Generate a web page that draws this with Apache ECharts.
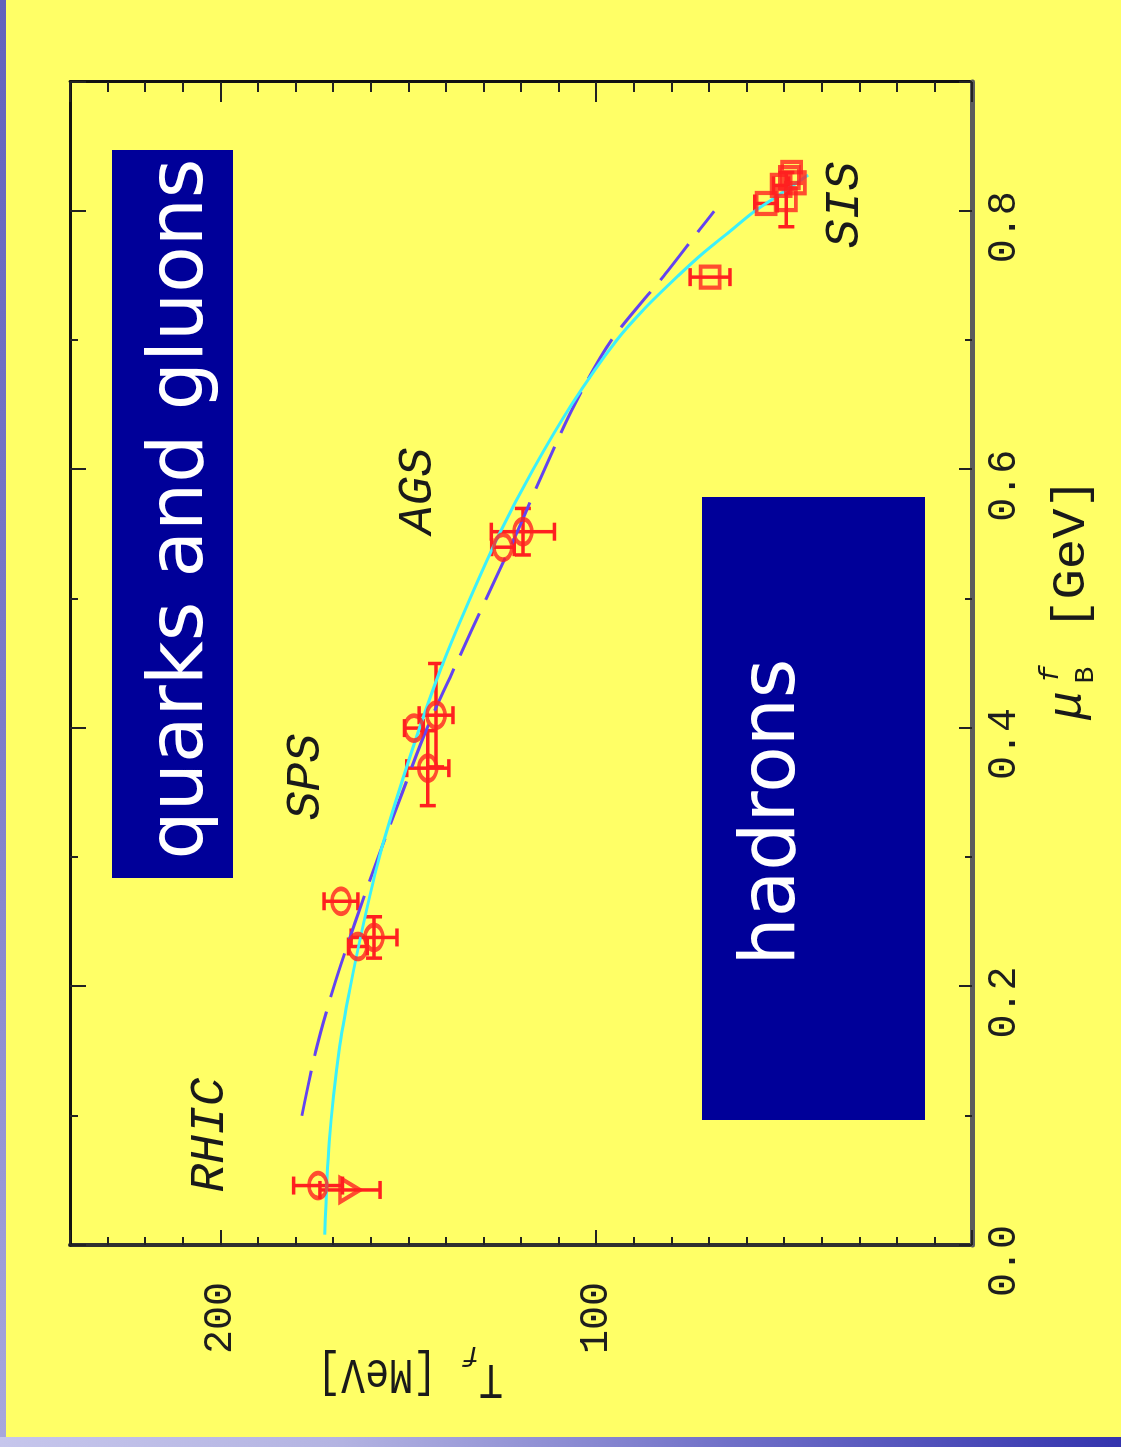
<!DOCTYPE html>
<html><head><meta charset="utf-8">
<script src="https://cdn.jsdelivr.net/npm/echarts@6/dist/echarts.min.js"></script>
<style>
html,body{margin:0;padding:0;width:1121px;height:1447px;overflow:hidden;background:#FFFF66;}
#chart{position:absolute;left:0;top:0;width:1447px;height:1121px;transform-origin:0 0;transform:translate(0px,1447px) rotate(-90deg);}
#edgeL{position:absolute;left:0;top:0;width:6px;height:1447px;background:linear-gradient(#6262BC,#7c7cc8 50%,#a8a8dc);z-index:5;}
#edgeB{position:absolute;left:0;top:1437px;width:1121px;height:10px;background:linear-gradient(90deg,#c6c6ec,#b4b4e2 30%,#7070c8 65%,#3434ae);z-index:5;}
</style></head>
<body>
<div id="chart"></div>
<div id="edgeL"></div>
<div id="edgeB"></div>
<script>
// ---- tick labels ----
const muTickLabels = ['0.0', '0.2', '0.4', '0.6', '0.8'];
const tTickLabels = ['100', '200'];

// ---- curves: [muB (GeV), T (MeV)] ----
const curveSolid = [
  [0.008, 172.2], [0.08, 171.0], [0.15, 168.4], [0.20, 165.4], [0.25, 161.8],
  [0.30, 157.7], [0.35, 152.6], [0.40, 147.0], [0.45, 140.8], [0.50, 133.6],
  [0.55, 125.8], [0.60, 116.8], [0.65, 106.6], [0.70, 94.6], [0.725, 87.0],
  [0.75, 78.2], [0.768, 71.4], [0.783, 65.0], [0.799, 58.3], [0.811, 52.2], [0.828, 43.6]
];
const curveDashed = [
  [0.100, 178.3], [0.15, 174.6], [0.20, 169.8], [0.25, 164.1], [0.30, 158.0],
  [0.35, 151.6], [0.40, 145.0], [0.45, 137.2], [0.50, 129.3], [0.55, 121.3],
  [0.60, 113.8], [0.65, 105.8], [0.70, 96.0], [0.75, 82.0], [0.786, 72.4], [0.800, 68.6]
];

// ---- data points: [muB, T, dT, dMu] ----
const rhicCircles = [[0.046, 174.0, 6.5, 0]];
const rhicTriangles = [[0.0426, 165.5, 8.0, 0]];
const spsCircles = [
  [0.266, 167.9, 4.5, 0], [0.238, 159.1, 6.1, 0.016], [0.231, 163.4, 2.5, 0],
  [0.410, 142.6, 4.5, 0.040], [0.400, 148.5, 2.5, 0], [0.369, 144.8, 5.6, 0.029]
];
const agsCircles = [[0.552, 119.5, 8.4, 0.018], [0.540, 124.8, 3.0, 0]];
const sisSquares = [
  [0.749, 69.7, 5.3, 0], [0.806, 54.8, 3.0, 0], [0.809, 49.4, 0, 0.021],
  [0.826, 48.6, 0, 0], [0.822, 47.0, 0, 0], [0.820, 50.8, 2.0, 0], [0.830, 48.0, 0, 0]
];

const RED = '#FF2020';
const CYAN = '#3CF0FA';
const VIOLET = '#6343F0';
const ELLIPSE = 'path://M0,-50A50,50 0 1,1 0,50A50,50 0 1,1 0,-50Z';

const chart = echarts.init(document.getElementById('chart'), null, {renderer: 'canvas', width: 1447, height: 1121});

function errRender(params, api) {
  const mu = api.value(0), T = api.value(1), dT = api.value(2), dMu = api.value(3);
  const st = {stroke: RED, lineWidth: 3.5};
  const ch = [];
  const capW = 9, capH = 8;
  if (dT > 0) {
    const a = api.coord([mu, T - dT]), b = api.coord([mu, T + dT]);
    ch.push({type: 'line', shape: {x1: a[0], y1: a[1], x2: b[0], y2: b[1]}, style: st});
    ch.push({type: 'line', shape: {x1: a[0] - capW, y1: a[1], x2: a[0] + capW, y2: a[1]}, style: st});
    ch.push({type: 'line', shape: {x1: b[0] - capW, y1: b[1], x2: b[0] + capW, y2: b[1]}, style: st});
  }
  if (dMu > 0) {
    const a = api.coord([mu - dMu, T]), b = api.coord([mu + dMu, T]);
    ch.push({type: 'line', shape: {x1: a[0], y1: a[1], x2: b[0], y2: b[1]}, style: st});
    ch.push({type: 'line', shape: {x1: a[0], y1: a[1] - capH, x2: a[0], y2: a[1] + capH}, style: st});
    ch.push({type: 'line', shape: {x1: b[0], y1: b[1] - capH, x2: b[0], y2: b[1] + capH}, style: st});
  }
  return {type: 'group', children: ch};
}

const allPoints = [].concat(rhicCircles, rhicTriangles, spsCircles, agsCircles, sisSquares);

function tickAxis(pos, interval, len, line) {
  return {
    type: 'value', min: 0, max: 0.9, interval: interval, position: pos,
    axisLine: line ? {show: true, onZero: false, lineStyle: line} : {show: false, onZero: false},
    axisTick: {show: true, inside: true, length: len, lineStyle: {color: '#222', width: 2}},
    axisLabel: {show: false}, splitLine: {show: false}
  };
}
function tickAxisY(pos, interval, len, line) {
  return {
    type: 'value', min: 0, max: 240, interval: interval, position: pos,
    axisLine: line ? {show: true, onZero: false, lineStyle: line} : {show: false, onZero: false},
    axisTick: {show: true, inside: true, length: len, lineStyle: {color: '#222', width: 2}},
    axisLabel: {show: false}, splitLine: {show: false}
  };
}

const xMain = tickAxis('bottom', 0.2, 13, {color: '#5c5c5c', width: 5});
xMain.axisLabel = {
  show: true, margin: 12, fontFamily: 'Liberation Mono', fontSize: 40, color: '#1e1e1e',
  padding: [0, 32, 0, 0],
  formatter: function (v) { const s = v.toFixed(1); return muTickLabels.indexOf(s) >= 0 ? s : ''; }
};
const yMain = tickAxisY('left', 100, 15, {color: '#303030', width: 4});
yMain.axisLabel = {
  show: true, margin: 37, fontFamily: 'Liberation Mono', fontSize: 40, color: '#1e1e1e',
  formatter: function (v) { const s = String(Math.round(v)); return tTickLabels.indexOf(s) >= 0 ? s : ''; }
};

const txt = (x, y, text, extra) => ({
  type: 'text', x: x, y: y, z: 100,
  style: Object.assign({text: text, fill: '#1a1a1a', align: 'center', verticalAlign: 'middle',
    fontFamily: 'Liberation Mono', fontSize: 48, fontStyle: 'italic'}, extra || {})
});

chart.setOption({
  backgroundColor: 'transparent',
  animation: false,
  grid: {left: 202, right: 82, top: 70, bottom: 149, containLabel: false, outerBoundsMode: 'none'},
  xAxis: [xMain, tickAxis('bottom', 0.1, 7, null), tickAxis('top', 0.2, 16, {color: '#111', width: 3}), tickAxis('top', 0.1, 8, null)],
  yAxis: [yMain, tickAxisY('left', 10, 8, null), tickAxisY('right', 100, 20, {color: '#111', width: 3}), tickAxisY('right', 10, 10, null)],
  series: [
    {type: 'custom', renderItem: errRender, data: allPoints, encode: {x: 0, y: 1}, z: 3, silent: true},
    {type: 'line', data: curveDashed, showSymbol: false, smooth: 0.3, z: 4, itemStyle: {color: VIOLET},
      lineStyle: {color: VIOLET, width: 3, type: [46, 15]}},
    {type: 'line', data: curveSolid, showSymbol: false, smooth: 0.3, z: 4,
      lineStyle: {color: CYAN, width: 3}, itemStyle: {color: CYAN}},
    {type: 'scatter', data: [].concat(rhicCircles, spsCircles, agsCircles), symbol: ELLIPSE, symbolSize: [25, 18], z: 5,
      itemStyle: {color: 'rgba(0,0,0,0)', borderColor: RED, borderWidth: 4}},
    {type: 'scatter', data: rhicTriangles, symbol: 'triangle', symbolRotate: 180, symbolSize: [24, 20], z: 5,
      itemStyle: {color: 'rgba(0,0,0,0)', borderColor: RED, borderWidth: 4}},
    {type: 'scatter', data: sisSquares, symbol: 'rect', symbolSize: [21, 19], z: 5,
      itemStyle: {color: 'rgba(0,0,0,0)', borderColor: RED, borderWidth: 4}}
  ],
  graphic: [
    {type: 'rect', shape: {x: 569, y: 112, width: 728, height: 121}, style: {fill: '#000099'}, z: 90},
    {type: 'rect', shape: {x: 327, y: 702, width: 623, height: 223}, style: {fill: '#000099'}, z: 90},
    {type: 'text', x: 938, y: 182, z: 100, style: {text: 'quarks and gluons', fontFamily: 'DejaVu Sans', fontSize: 76,
      fill: '#ffffff', align: 'center', verticalAlign: 'middle',
      textShadowColor: '#000', textShadowOffsetX: 2, textShadowOffsetY: 3, textShadowBlur: 0}},
    {type: 'text', x: 635, y: 774, z: 100, style: {text: 'hadrons', fontFamily: 'DejaVu Sans', fontSize: 76,
      fill: '#ffffff', align: 'center', verticalAlign: 'middle',
      textShadowColor: '#000', textShadowOffsetX: 2, textShadowOffsetY: 3, textShadowBlur: 0}},
    txt(312, 210, 'RHIC'),
    txt(670, 306, 'SPS'),
    txt(956, 418, 'AGS'),
    txt(1242, 845, 'SIS'),
    // x-axis title  mu_B^f [GeV]
    txt(742, 1068, 'μ', {fontStyle: 'italic', fontSize: 48}),
    txt(772, 1086, 'B', {fontStyle: 'normal', fontSize: 28}),
    txt(773, 1051, 'f', {fontStyle: 'italic', fontSize: 28}),
    Object.assign(txt(893, 1072, '[GeV]', {fontStyle: 'normal', fontSize: 46}), {scaleX: 1.1}),
    // y-axis title  T_f [MeV]  (vertical)
    Object.assign(txt(69, 491, 'T', {fontStyle: 'normal', fontSize: 40}), {rotation: Math.PI / 2, scaleY: 1.25}),
    Object.assign(txt(93, 471, 'f', {fontStyle: 'italic', fontSize: 28}), {rotation: Math.PI / 2}),
    Object.assign(txt(74, 377, '[MeV]', {fontStyle: 'normal', fontSize: 40}), {rotation: Math.PI / 2, scaleY: 1.25})
  ]
});
</script>
</body></html>
